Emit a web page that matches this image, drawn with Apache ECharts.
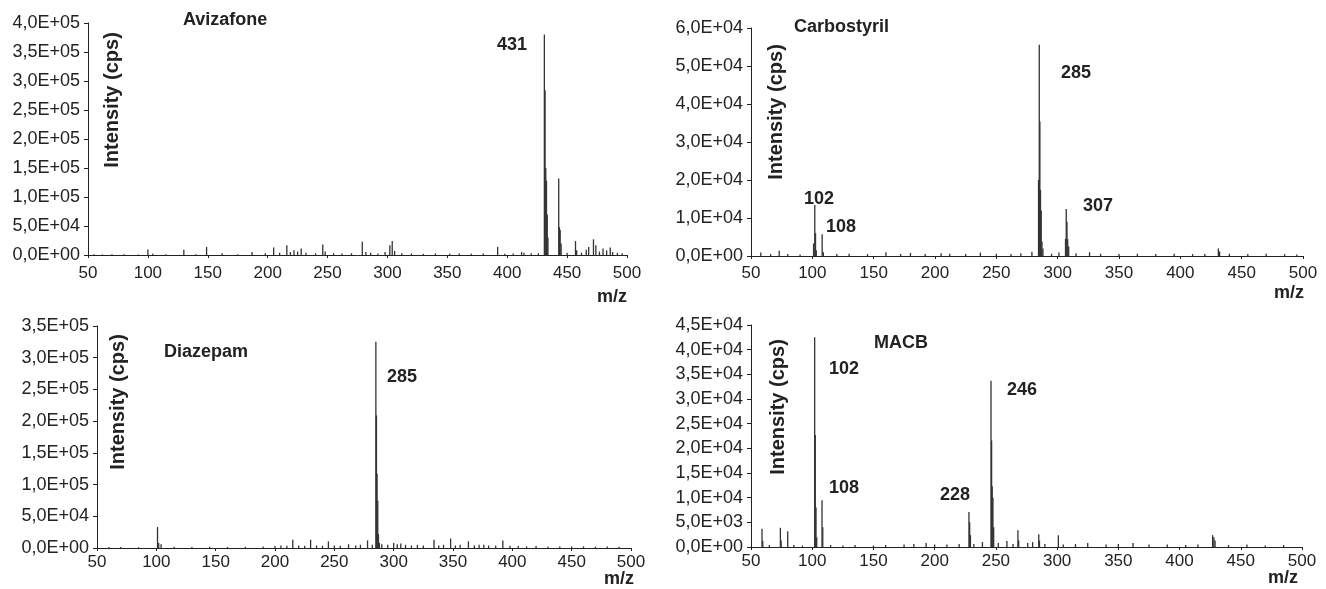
<!DOCTYPE html>
<html>
<head>
<meta charset="utf-8">
<script src="https://cdn.jsdelivr.net/npm/echarts@6/dist/echarts.min.js"></script>
<style>
html, body { margin: 0; padding: 0; background: #fff; }
#main { width: 1326px; height: 589px; }
</style>
</head>
<body>
<div id="main"></div>
<script>
// peaks as [m/z, intensity (cps)]
var avizafone = [
    [55,1500],[62,1000],[70,1200],[80,1500],[92,1000],[100,9500],[104,2000],[115,1500],[130,9000],[140,1500],
    [149,14000],[162,3000],[175,1500],[187,5000],[198,3000],[205,13000],[210,4000],[216,17000],[219,5000],[222,8000],
    [225,6000],[228,11000],[232,4000],[240,3000],[246,18000],[248,6000],[255,3000],[262,2500],[270,3000],[279,23000],
    [282,5000],[286,4000],[292,2500],[298,5000],[302,17000],[304,24000],[306,7000],[312,3000],[320,2500],[330,2000],
    [340,2500],[352,2000],[360,2500],[370,2000],[380,2500],[392,14000],[398,2000],[405,2500],[412,5000],[414,4000],
    [420,3000],[426,3000],[431,380000],[431.6,284000],[432.2,150000],[432.8,128000],[433.4,70000],[434,30000],
    [443,132000],[443.6,48000],[444.2,43000],[445,20000],[450,4000],[457,24000],[458,8000],[462,4000],[466,9000],
    [468,14000],[472,27000],[474,17000],[477,6000],[480,11000],[483,8000],[486,13000],[488,5000],[492,4000],[496,3000]
];
var carbostyril = [
    [58,900],[66,500],[73,1400],[80,500],[90,400],[101,3300],[102,13400],[102.6,6000],[103.2,1500],[108,5700],
    [109,1000],[120,500],[130,600],[145,500],[160,1000],[172,500],[180,800],[192,500],[205,700],[212,600],
    [225,500],[237,900],[250,600],[262,500],[270,700],[279,1100],[284.4,20000],[285,55600],[285.5,35400],[286,17400],
    [286.6,12000],[287.2,3800],[288,2000],[295,600],[301,900],[306.4,4500],[307,12400],[307.6,9000],[308.2,4400],[309,2500],
    [315,700],[326,1000],[335,600],[350,500],[365,600],[380,500],[395,600],[410,500],[420,500],[431,2000],
    [432,1200],[440,600],[455,500],[470,600],[485,500],[495,400]
];
var diazepam = [
    [60,1500],[70,1500],[85,1200],[101,33000],[102,8000],[104,6000],[115,2000],[130,1500],[145,2000],[160,1500],
    [175,2000],[190,2500],[200,3000],[205,4000],[210,3500],[215,13000],[220,4000],[225,3500],[230,13000],[235,4000],
    [240,3500],[245,10500],[250,4000],[255,3500],[262,6000],[268,4000],[272,5000],[278,12000],[282,5000],[285,325000],
    [285.5,209000],[286,117000],[286.6,75000],[287.2,22000],[288,8000],[290,6000],[295,5000],[300,8000],[303,6000],[306,7000],
    [310,5000],[315,4000],[320,5000],[325,4000],[334,13000],[338,4000],[342,5000],[348,15000],[352,4000],[356,5000],
    [363,10500],[368,4000],[372,5000],[376,5000],[380,4000],[386,4000],[392,12000],[398,3500],[405,3000],[412,2500],
    [420,3000],[430,2500],[440,2500],[450,2500],[460,2500],[470,2000],[480,2500],[490,2000]
];
var macb = [
    [59,3700],[59.6,1200],[65,400],[74,3900],[74.6,1300],[80,3200],[85,400],[92,300],[102,42500],[102.5,22700],
    [103.1,8000],[103.7,2000],[108,9500],[108.6,4000],[115,400],[125,300],[135,400],[150,300],[160,400],[175,500],
    [183,600],[193,800],[200,500],[210,500],[220,600],[228,7100],[228.6,5000],[229.2,2400],[232,600],[239,1000],
    [246,33700],[246.5,21600],[247,12300],[247.6,10000],[248.2,4000],[252,800],[259,1200],[264,600],[268,3400],[268.6,1300],
    [276,800],[280,1000],[285,2600],[285.6,1300],[290,600],[301,2400],[305,500],[315,600],[325,800],[340,500],
    [350,600],[362,800],[375,500],[390,500],[405,400],[415,500],[427,2400],[428,2000],[429,1300],[440,400],
    [455,500],[470,300],[485,400]
];

var spectra = [avizafone, carbostyril, diazepam, macb];
var compounds = ['Avizafone', 'Carbostyril', 'Diazepam', 'MACB'];
var yMax = [400000, 60000, 350000, 45000];
var yStep = [50000, 10000, 50000, 5000];
var mzMin = 50, mzMax = 500, mzStep = 50;
// peak annotations: [panel, text]
var peakLabels = [[0,'431'],[1,'285'],[1,'102'],[1,'108'],[1,'307'],[2,'285'],[3,'102'],[3,'108'],[3,'228'],[3,'246']];

var grids = [
    {left: 88, top: 23, width: 539, height: 232},
    {left: 751, top: 28, width: 552, height: 228},
    {left: 97, top: 326, width: 534, height: 222},
    {left: 751, top: 325, width: 551, height: 222}
];
var xLabelMargin = [10, 9, 6, 6];
// label pixel spots, same order as peakLabels
var peakPos = [[497,45],[1061,73],[804,199],[826,227],[1083,206],[387,377],[829,369],[829,488],[940,495],[1007,390]];
var titlePos = [[183,20],[794,27],[164,352],[874,343]];
var yNamePos = [[112,100],[776,112],[118,402],[778,407]];
var mzPos = [[612,297],[1289,293],[619,579],[1283,578]];

function sci(v){
    if(v === 0) return '0,0E+00'
    var e = Math.floor(Math.log10(v) + 1e-9)
    var m = v / Math.pow(10, e)
    return m.toFixed(1).replace('.', ',') + 'E+' + (e < 10 ? '0' : '') + e
}

var fontFam = '"Liberation Sans", Arial, sans-serif'
var axisColor = '#222'

var xAxis = [], yAxis = [], series = [], graphic = []
grids.forEach(function(g, i){
    xAxis.push({
        type: 'value', gridIndex: i, min: mzMin, max: mzMax, interval: mzStep,
        axisLine: {show: true, onZero: false, lineStyle: {color: axisColor, width: 1}},
        axisTick: {show: true, length: 3, lineStyle: {color: axisColor}},
        axisLabel: {color: '#222', fontSize: 17, fontFamily: fontFam, margin: xLabelMargin[i]},
        splitLine: {show: false}
    })
    yAxis.push({
        type: 'value', gridIndex: i, min: 0, max: yMax[i], interval: yStep[i],
        axisLine: {show: true, lineStyle: {color: axisColor, width: 1}},
        axisTick: {show: true, length: 4, lineStyle: {color: axisColor}},
        axisLabel: {color: '#222', fontSize: 18, fontFamily: fontFam, margin: 8, formatter: sci},
        splitLine: {show: false}
    })
    series.push({
        type: 'bar', xAxisIndex: i, yAxisIndex: i,
        barWidth: 1.3,
        itemStyle: {color: '#333'},
        data: spectra[i],
        animation: false
    })
    graphic.push({
        type: 'text', x: titlePos[i][0], y: titlePos[i][1],
        style: {text: compounds[i], font: 'bold 18px ' + fontFam, fill: '#222', textVerticalAlign: 'middle'}
    })
    graphic.push({
        type: 'text', x: yNamePos[i][0], y: yNamePos[i][1], rotation: Math.PI / 2,
        style: {text: 'Intensity (cps)', font: 'bold 20px ' + fontFam, fill: '#222', textAlign: 'center', textVerticalAlign: 'middle'}
    })
    graphic.push({
        type: 'text', x: mzPos[i][0], y: mzPos[i][1],
        style: {text: 'm/z', font: 'bold 18px ' + fontFam, fill: '#222', textAlign: 'center', textVerticalAlign: 'middle'}
    })
})
peakLabels.forEach(function(p, k){
    graphic.push({
        type: 'text', x: peakPos[k][0], y: peakPos[k][1],
        style: {text: p[1], font: 'bold 18px ' + fontFam, fill: '#222', textVerticalAlign: 'middle'}
    })
})

var option = {
    animation: false,
    backgroundColor: '#fff',
    grid: grids,
    xAxis: xAxis,
    yAxis: yAxis,
    series: series,
    graphic: graphic
}
var myChart = echarts.init(document.getElementById('main'))
myChart.setOption(option)
</script>
</body>
</html>
